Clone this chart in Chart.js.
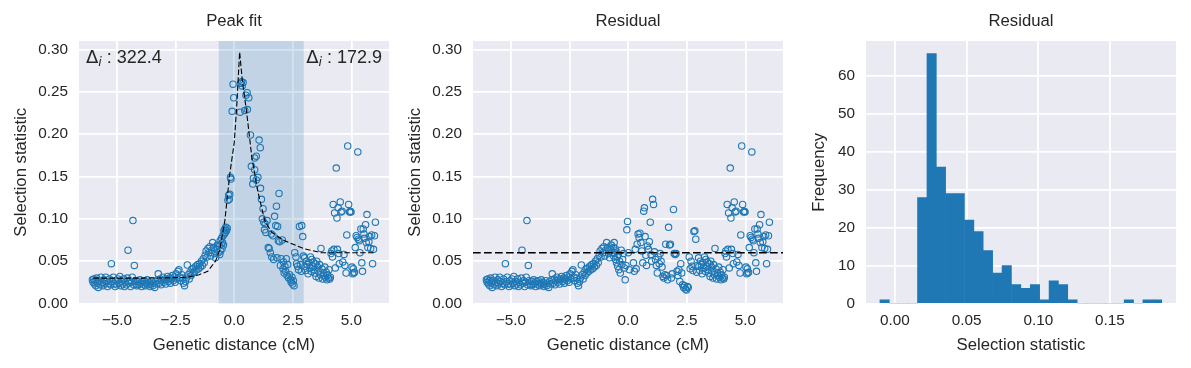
<!DOCTYPE html>
<html><head><meta charset="utf-8">
<script src="https://cdn.jsdelivr.net/npm/chart.js@4/dist/chart.umd.min.js"></script>
<style>
html,body{margin:0;padding:0;background:#fff;}
#wrap{position:relative;width:1191px;height:368px;overflow:hidden;}
canvas{position:absolute;top:0;}
</style></head><body>
<div id="wrap">
<canvas id="c1" width="395" height="368" style="left:0px"></canvas>
<canvas id="c2" width="395" height="368" style="left:395px"></canvas>
<canvas id="c3" width="401" height="368" style="left:790px"></canvas>
</div>
<script>
// ---------------- data ----------------
// points left of the fitted interval (identical in both scatter panels)
const leftPoints = [
[-6.05,0.028],[-6.02,0.025],[-5.99,0.029],[-5.96,0.023],[-5.93,0.027],[-5.90,0.021],[-5.87,0.030],[-5.84,0.024],[-5.80,0.019],[-5.76,0.027],
[-5.72,0.022],[-5.68,0.031],[-5.64,0.025],[-5.60,0.021],[-5.56,0.028],[-5.52,0.023],[-5.48,0.031],[-5.44,0.026],[-5.40,0.020],[-5.36,0.024],
[-5.32,0.029],[-5.28,0.022],[-5.24,0.047],[-5.20,0.026],[-5.16,0.031],[-5.12,0.023],[-5.08,0.020],[-5.04,0.027],[-5.00,0.022],[-4.96,0.029],
[-4.92,0.024],[-4.88,0.032],[-4.84,0.021],[-4.80,0.026],[-4.76,0.023],[-4.72,0.029],[-4.68,0.020],[-4.64,0.025],[-4.60,0.022],[-4.56,0.030],
[-4.53,0.063],[-4.50,0.024],[-4.46,0.027],[-4.42,0.020],[-4.38,0.025],[-4.35,0.031],[-4.32,0.098],[-4.29,0.022],[-4.26,0.045],[-4.23,0.027],
[-4.19,0.023],[-4.15,0.021],[-4.11,0.026],[-4.07,0.022],[-4.03,0.028],[-3.99,0.024],[-3.95,0.020],[-3.91,0.026],[-3.87,0.023],[-3.83,0.027],
[-3.79,0.021],[-3.75,0.024],[-3.71,0.028],[-3.67,0.022],[-3.63,0.025],[-3.59,0.020],[-3.55,0.023],[-3.51,0.027],[-3.47,0.021],[-3.43,0.024],
[-3.39,0.019],[-3.35,0.026],[-3.31,0.023],[-3.27,0.028],[-3.24,0.035],[-3.20,0.024],[-3.16,0.029],[-3.12,0.022],[-3.08,0.027],[-3.04,0.031],
[-3.00,0.025],[-2.96,0.029],[-2.92,0.023],[-2.88,0.028],[-2.84,0.032],[-2.80,0.026],[-2.76,0.030],[-2.72,0.024],[-2.68,0.029],[-2.64,0.033],
[-2.60,0.027],[-2.56,0.031],[-2.52,0.025],[-2.48,0.035],[-2.44,0.029],
[-2.40,0.038],[-2.36,0.040],[-2.32,0.031],[-2.28,0.027],[-2.24,0.034],[-2.20,0.030],[-2.16,0.024],[-2.12,0.021],[-2.08,0.026],[-2.04,0.030],
[-2.00,0.0455],[-1.96,0.034],[-1.92,0.029],[-1.88,0.037],[-1.84,0.033],[-1.80,0.041],[-1.76,0.036],[-1.72,0.042],[-1.68,0.038],[-1.64,0.044],
[-1.60,0.040],[-1.56,0.046],[-1.52,0.041],[-1.48,0.047],[-1.44,0.043],[-1.40,0.050],[-1.36,0.045],[-1.32,0.053],[-1.28,0.048],[-1.24,0.057],
[-1.20,0.062],[-1.16,0.055],[-1.12,0.065],[-1.08,0.060],[-1.04,0.067],[-1.00,0.056],[-0.96,0.063],[-0.92,0.072],[-0.88,0.066],[-0.84,0.059],
[-0.80,0.054],[-0.76,0.064],[-0.72,0.069],[-0.69,0.060]
];
// points inside the fitted interval, raw selection statistic
const bandPeak = [
[-0.64,0.068],[-0.62,0.058],[-0.60,0.074],[-0.58,0.062],[-0.56,0.070],[-0.54,0.077],[-0.52,0.065],[-0.50,0.072],[-0.48,0.080],[-0.46,0.069],
[-0.44,0.086],[-0.42,0.082],[-0.40,0.088],[-0.38,0.084],[-0.36,0.090],[-0.33,0.086],[-0.30,0.089],[-0.27,0.122],[-0.24,0.128],[-0.21,0.123],
[-0.19,0.129],[-0.16,0.149],[-0.14,0.147],[-0.09,0.227],[-0.05,0.259],[-0.02,0.243],[0.25,0.226],[0.28,0.260],[0.31,0.262],[0.34,0.257],
[0.38,0.261],[0.45,0.228],[0.50,0.246],[0.55,0.249],[0.56,0.229],[0.62,0.243],[0.69,0.199],[0.73,0.162],[0.79,0.141],[0.82,0.148],
[0.87,0.172],[0.87,0.158],[0.94,0.174],[0.94,0.146],[1.01,0.149],[1.06,0.193],[1.11,0.184],[1.12,0.136],[1.16,0.123],[1.20,0.100],
[1.23,0.112],[1.26,0.096],[1.29,0.087],[1.32,0.094],[1.35,0.084],[1.40,0.098],[1.45,0.066],[1.49,0.065],[1.54,0.060],[1.58,0.082],
[1.60,0.055],[1.65,0.080],[1.68,0.052],[1.72,0.103],[1.77,0.092],[1.80,0.115],[1.82,0.054],[1.85,0.091],[1.88,0.074],[1.91,0.130],
[1.94,0.073],[1.97,0.045],[2.00,0.053],[2.05,0.075],[2.08,0.041],[2.10,0.049],[2.13,0.036],[2.16,0.044],[2.19,0.038],[2.22,0.053],
[2.25,0.033],[2.28,0.046],[2.32,0.030],[2.36,0.034],[2.40,0.028],[2.43,0.025],[2.46,0.031],[2.49,0.023],[2.52,0.027],[2.55,0.021],
[2.58,0.060],[2.63,0.055],[2.66,0.047],[2.70,0.044],[2.74,0.040],[2.78,0.091],[2.82,0.046],[2.86,0.038],[2.88,0.092],[2.92,0.079],[2.95,0.056]
];
// points inside the fitted interval, residual
const bandResidual = [
[-0.64,0.066],[-0.62,0.056],[-0.60,0.072],[-0.58,0.060],[-0.56,0.065],[-0.54,0.052],[-0.52,0.062],[-0.50,0.048],[-0.47,0.055],[-0.45,0.044],
[-0.42,0.058],[-0.40,0.040],[-0.37,0.050],[-0.34,0.036],[-0.30,0.063],[-0.27,0.046],[-0.24,0.052],[-0.20,0.059],[-0.16,0.042],[-0.13,0.028],
[-0.10,0.045],[-0.06,0.087],[-0.03,0.097],[0.00,0.060],[0.05,0.040],[0.22,0.048],[0.26,0.038],[0.30,0.064],[0.34,0.041],[0.38,0.070],
[0.42,0.082],[0.46,0.078],[0.50,0.083],[0.54,0.072],[0.58,0.062],[0.62,0.048],[0.66,0.109],[0.69,0.113],[0.72,0.079],[0.75,0.057],
[0.78,0.045],[0.82,0.068],[0.86,0.064],[0.90,0.073],[0.94,0.096],[0.97,0.058],[1.00,0.050],[1.04,0.123],[1.08,0.117],[1.12,0.061],
[1.16,0.052],[1.20,0.045],[1.24,0.036],[1.28,0.055],[1.32,0.047],[1.36,0.059],[1.40,0.050],[1.44,0.043],[1.48,0.032],[1.52,0.030],
[1.56,0.034],[1.60,0.070],[1.64,0.033],[1.68,0.028],[1.72,0.090],[1.76,0.069],[1.80,0.070],[1.84,0.030],[1.88,0.035],[1.93,0.111],
[1.96,0.059],[2.00,0.058],[2.04,0.059],[2.08,0.038],[2.12,0.033],[2.16,0.040],[2.20,0.026],[2.24,0.047],[2.28,0.036],[2.32,0.022],
[2.36,0.019],[2.40,0.021],[2.44,0.017],[2.48,0.016],[2.52,0.020],[2.56,0.019],[2.60,0.055],[2.64,0.041],[2.68,0.050],[2.72,0.044],
[2.76,0.039],[2.80,0.085],[2.84,0.086],[2.88,0.076],[2.92,0.037],[2.95,0.045]
];
// points right of the fitted interval (identical in both scatter panels)
const rightPoints = [
[3.00,0.054],[3.02,0.044],[3.05,0.039],[3.08,0.050],[3.12,0.046],[3.15,0.035],[3.18,0.048],[3.22,0.042],[3.25,0.055],[3.28,0.038],
[3.31,0.052],[3.34,0.044],[3.37,0.049],[3.40,0.040],[3.43,0.036],[3.46,0.047],[3.49,0.032],[3.52,0.050],[3.55,0.043],[3.58,0.038],
[3.61,0.030],[3.64,0.046],[3.67,0.034],[3.70,0.065],[3.74,0.041],[3.77,0.029],[3.80,0.036],[3.83,0.033],[3.86,0.043],[3.89,0.031],
[3.92,0.037],[3.95,0.028],[3.98,0.034],[4.01,0.030],[4.04,0.040],[4.07,0.029],[4.10,0.031],[4.13,0.059],[4.16,0.062],[4.19,0.055],
[4.22,0.117],[4.25,0.064],[4.28,0.107],[4.31,0.042],[4.35,0.160],[4.38,0.101],[4.40,0.064],[4.43,0.113],[4.46,0.059],[4.48,0.047],
[4.52,0.120],[4.56,0.108],[4.60,0.109],[4.63,0.049],[4.68,0.058],[4.72,0.045],[4.77,0.036],[4.80,0.081],[4.84,0.186],[4.88,0.117],
[4.92,0.108],[4.95,0.109],[4.98,0.108],[5.02,0.043],[5.05,0.035],[5.08,0.041],[5.10,0.036],[5.13,0.037],[5.16,0.066],[5.20,0.080],
[5.24,0.078],[5.27,0.179],[5.30,0.076],[5.33,0.074],[5.36,0.060],[5.40,0.088],[5.44,0.048],[5.47,0.038],[5.50,0.088],[5.53,0.082],
[5.56,0.077],[5.60,0.093],[5.63,0.072],[5.66,0.105],[5.70,0.066],[5.74,0.073],[5.78,0.079],[5.82,0.065],[5.86,0.081],[5.90,0.047],
[5.94,0.064],[5.98,0.080],[6.02,0.096]
];
// fitted peak curve
const fitX = [-6.0,-4.0,-3.0,-2.0,-1.5,-1.13,-0.8,-0.62,-0.4,-0.19,0.0,0.1,0.23,0.35,0.52,0.75,1.0,1.3,1.6,2.15,3.0,3.7,4.5,6.0];
const fitY = [0.030,0.030,0.0302,0.031,0.034,0.038,0.050,0.063,0.098,0.153,0.19,0.23,0.297,0.262,0.228,0.173,0.133,0.098,0.084,0.074,0.0645,0.060,0.060,0.060];
const peakInterval = [-0.66, 2.96];
const deltaLeft = "322.4";
const deltaRight = "172.9";
const residualLevel = 0.06;
// histogram of residuals
const binCenters = [-0.0072,-0.0006,0.0059,0.0125,0.0190,0.0256,0.0321,0.0387,0.0452,0.0518,0.0583,0.0649,0.0715,0.0780,0.0846,
                    0.0911,0.0977,0.1042,0.1108,0.1173,0.1239,0.1305,0.1370,0.1436,0.1501,0.1567,0.1632,0.1698,0.1763,0.1829];
const binCounts = [1,0,0,0,28,66,36,29,29,22,19,14,8,10,5,4,5,1,6,5,1,0,0,0,0,0,1,0,1,1];
// axes
const distTicks = [-5,-2.5,0,2.5,5];
const statTicks = [0,0.05,0.10,0.15,0.20,0.25,0.30];
const histXTicks = [0,0.05,0.10,0.15];
const histYTicks = [0,10,20,30,40,50,60];
const distRange = [-6.62, 6.60];
const statRange = [0, 0.31];
const histXRange = [-0.0202, 0.1961];
const histYRange = [0, 69.3];

// ---------------- styling ----------------
const FONT = "'Liberation Sans', Arial, sans-serif";
const TXT = '#262626';
const BLUE = '#1f77b4';
Chart.defaults.font.family = FONT;
Chart.defaults.color = TXT;

const toXY = arr => arr.map(p => ({x:p[0], y:p[1]}));
const fitData = fitX.map((x,i)=>({x, y:fitY[i]}));

const bgPlugin = { id:'bg', beforeDraw(chart){ const {ctx, chartArea:a} = chart; ctx.save(); ctx.fillStyle='#EAEAF2'; ctx.fillRect(a.left,a.top,a.width,a.height); ctx.restore(); } };
const bandPlugin = { id:'band', beforeDatasetsDraw(chart, args, opts){ if(!opts.on) return; const {ctx, chartArea:a, scales:{x}} = chart;
  const x0 = x.getPixelForValue(peakInterval[0]), x1 = x.getPixelForValue(peakInterval[1]);
  ctx.save(); ctx.fillStyle='rgba(31,119,180,0.2)'; ctx.fillRect(x0,a.top,x1-x0,a.height); ctx.restore(); } };
function drawDelta(ctx, x, baseline, value, alignRight){
  const sym = "18px 'DejaVu Sans'", sub = "italic 12.6px 'DejaVu Sans'", main = "18px " + FONT;
  const rest = " : " + value;
  ctx.font = sym; const w1 = ctx.measureText('\u0394').width;
  ctx.font = sub; const w2 = ctx.measureText('i').width;
  ctx.font = main; const w3 = ctx.measureText(rest).width;
  let sx = alignRight ? x - (w1+w2+w3) : x;
  ctx.fillStyle = TXT; ctx.textBaseline='alphabetic'; ctx.textAlign='left';
  ctx.font = sym; ctx.fillText('\u0394', sx, baseline);
  ctx.font = sub; ctx.fillText('i', sx+w1, baseline+3.2);
  ctx.font = main; ctx.fillText(rest, sx+w1+w2, baseline);
}
const deltaPlugin = { id:'delta', afterDatasetsDraw(chart, args, opts){ if(!opts.on) return; const {ctx, chartArea:a} = chart;
  ctx.save(); drawDelta(ctx, a.left+7, a.top+21.7, deltaLeft, false); drawDelta(ctx, a.right-7, a.top+21.7, deltaRight, true); ctx.restore(); } };

function xAxis(range, ticks, fmt, title){
  return { type:'linear', position:'bottom', min:range[0], max:range[1], offset:false,
    afterBuildTicks: s => { s.ticks = ticks.map(v=>({value:v})); },
    afterFit: s => { s.height = 64.5; },
    grid:{ color:'#ffffff', lineWidth:1.8, drawTicks:false, offset:false },
    border:{ display:false },
    ticks:{ padding:8, color:TXT, font:{size:15.3}, callback:fmt, autoSkip:false, maxRotation:0 },
    title:{ display:true, text:title, color:TXT, font:{size:16.7}, padding:{top:0,bottom:13} } };
}
function yAxis(range, ticks, fmt, title, width, tpad){
  return { type:'linear', position:'left', min:range[0], max:range[1],
    afterBuildTicks: s => { s.ticks = ticks.map(v=>({value:v})); },
    afterFit: s => { s.width = width; },
    grid:{ color:'#ffffff', lineWidth:1.8, drawTicks:false },
    border:{ display:false },
    ticks:{ padding:11, color:TXT, font:{size:15.3}, callback:fmt, autoSkip:false },
    title:{ display:true, text:title, color:TXT, font:{size:16.7}, padding:{top:tpad,bottom:0} } };
}
const fmtDist = v => v.toFixed(1).replace('-', '\u2212');
const fmtStat = v => v.toFixed(2);
const fmtInt = v => String(v);
const titleOpts = t => ({ display:true, text:t, fullSize:false, color:TXT, font:{size:16.7, weight:'normal'}, padding:{top:11,bottom:10} });
const scatterStyle = { pointStyle:'circle', pointRadius:3.2, pointBorderWidth:1.1, pointBorderColor:BLUE, pointBackgroundColor:'rgba(0,0,0,0)', showLine:false, order:2 };
const baseOpts = { responsive:false, animation:false, events:[] };

new Chart(document.getElementById('c1'), {
  type:'scatter',
  data:{ datasets:[
    Object.assign({ data: toXY(leftPoints.concat(bandPeak, rightPoints)) }, scatterStyle),
    { data: fitData, showLine:true, borderColor:'#000', borderWidth:1.1, borderDash:[5.5,2.4], pointRadius:0, fill:false, tension:0, order:1 }
  ]},
  options: Object.assign({}, baseOpts, {
    layout:{ padding:{left:0,right:6,top:0,bottom:0} },
    plugins:{ legend:{display:false}, tooltip:{enabled:false}, title:titleOpts('Peak fit'), band:{on:true}, delta:{on:true} },
    scales:{ x:xAxis(distRange, distTicks, fmtDist, 'Genetic distance (cM)'), y:yAxis(statRange, statTicks, fmtStat, 'Selection statistic', 79, 11) }
  }),
  plugins:[bgPlugin, bandPlugin, deltaPlugin]
});

new Chart(document.getElementById('c2'), {
  type:'scatter',
  data:{ datasets:[
    Object.assign({ data: toXY(leftPoints.concat(bandResidual, rightPoints)) }, scatterStyle),
    { data:[{x:distRange[0], y:residualLevel},{x:distRange[1], y:residualLevel}], showLine:true, borderColor:'#000', borderWidth:1.5, borderDash:[7.7,3.3], pointRadius:0, fill:false, order:1 }
  ]},
  options: Object.assign({}, baseOpts, {
    layout:{ padding:{left:0,right:7,top:0,bottom:0} },
    plugins:{ legend:{display:false}, tooltip:{enabled:false}, title:titleOpts('Residual'), band:{on:false}, delta:{on:false} },
    scales:{ x:xAxis(distRange, distTicks, fmtDist, 'Genetic distance (cM)'), y:yAxis(statRange, statTicks, fmtStat, 'Selection statistic', 78, 10) }
  }),
  plugins:[bgPlugin]
});

new Chart(document.getElementById('c3'), {
  type:'bar',
  data:{ datasets:[ { data: binCenters.map((c,i)=>({x:c, y:binCounts[i]})), backgroundColor:BLUE, borderWidth:0, barPercentage:1, categoryPercentage:1, grouped:false } ]},
  options: Object.assign({}, baseOpts, {
    layout:{ padding:{left:0,right:15,top:0,bottom:0} },
    plugins:{ legend:{display:false}, tooltip:{enabled:false}, title:titleOpts('Residual') },
    scales:{ x:xAxis(histXRange, histXTicks, fmtStat, 'Selection statistic'), y:yAxis(histYRange, histYTicks, fmtInt, 'Frequency', 76, 19) }
  }),
  plugins:[bgPlugin]
});
</script>
</body></html>
